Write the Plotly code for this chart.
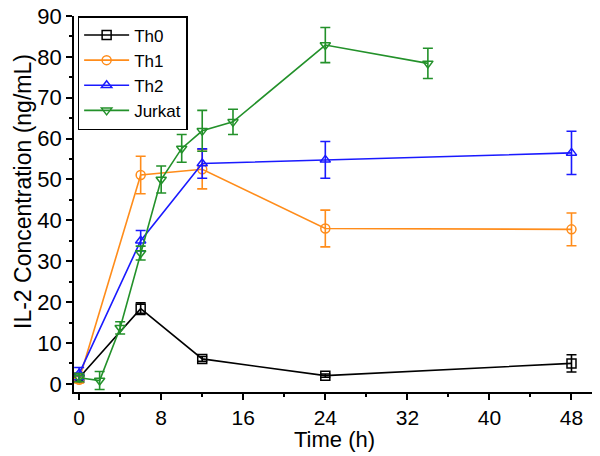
import plotly.graph_objects as go

# Data
th0_t = [0, 6, 12, 24, 48]
th0_y = [1.5, 18.4, 6.1, 2.0, 5.0]
th0_e = [0.6, 1.4, 0.6, 0.4, 2.1]

th1_t = [0, 6, 12, 24, 48]
th1_y = [1.0, 51.1, 52.5, 38.0, 37.8]
th1_e = [0.8, 4.6, 4.8, 4.5, 4.0]

th2_t = [0, 6, 12, 24, 48]
th2_y = [2.5, 35.0, 53.9, 54.8, 56.5]
th2_e = [1.5, 2.5, 3.6, 4.5, 5.3]

jur_t = [0, 2, 4, 6, 8, 10, 12, 15, 24, 34]
jur_y = [1.5, 0.8, 13.7, 32.0, 50.0, 57.6, 61.9, 64.1, 82.9, 78.4]
jur_e = [1.0, 2.2, 1.5, 1.7, 3.3, 3.4, 5.0, 3.1, 4.3, 3.7]

series = [
    ("Th0", th0_t, th0_y, th0_e, "#000000", "square-open"),
    ("Th1", th1_t, th1_y, th1_e, "#FF8C1A", "circle-open"),
    ("Th2", th2_t, th2_y, th2_e, "#1A1AFF", "triangle-up-open"),
    ("Jurkat", jur_t, jur_y, jur_e, "#23912A", "triangle-down-open"),
]

x_ticks = [0, 8, 16, 24, 32, 40, 48]
y_ticks = [0, 10, 20, 30, 40, 50, 60, 70, 80, 90]

fig = go.Figure()
for name, t, y, e, c, sym in series:
    fig.add_trace(go.Scatter(
        x=t, y=y, name=name, mode="lines+markers",
        line=dict(color=c, width=1.6),
        marker=dict(symbol=sym, size=9, color=c, line=dict(color=c, width=1.5)),
        error_y=dict(type="data", array=e, visible=True, color=c, thickness=1.6, width=5),
    ))

font = "Liberation Sans, Arial, sans-serif"
fig.update_layout(
    width=600, height=456,
    margin=dict(l=74, r=8, t=16, b=64),
    plot_bgcolor="white", paper_bgcolor="white",
    font=dict(family=font, size=21, color="black"),
    showlegend=True,
    legend=dict(x=0.007, y=1.0, xanchor="left", yanchor="top",
                bordercolor="black", borderwidth=1.5, bgcolor="white",
                font=dict(size=17, family=font), tracegroupgap=0,
                itemwidth=45),
    annotations=[
        dict(text="Time (h)", xref="paper", yref="paper", x=0.502, y=-0.125,
             xanchor="center", yanchor="middle", showarrow=False,
             font=dict(size=22, family=font, color="black")),
        dict(text="IL-2 Concentration (ng/mL)", xref="paper", yref="paper",
             x=-0.0985, y=0.5346, xanchor="center", yanchor="middle",
             textangle=-90, showarrow=False,
             font=dict(size=23, family=font, color="black")),
    ],
)
fig.update_xaxes(
    range=[-0.5, 50], tickvals=x_ticks, ticktext=[str(v) for v in x_ticks],
    showline=True, linecolor="black", linewidth=1.5, mirror=False,
    ticks="outside", ticklen=6, tickwidth=1.5, tickcolor="black",
    minor=dict(dtick=4, tick0=0, ticks="outside", ticklen=3, tickwidth=1.5, tickcolor="black"),
    showgrid=False, zeroline=False, automargin=False,
    tickfont=dict(size=21),
)
fig.update_yaxes(
    range=[-2, 90], tickvals=y_ticks, ticktext=[str(v) for v in y_ticks],
    showline=True, linecolor="black", linewidth=1.5, mirror=False,
    ticks="outside", ticklen=6, tickwidth=1.5, tickcolor="black",
    minor=dict(dtick=5, tick0=0, ticks="outside", ticklen=3, tickwidth=1.5, tickcolor="black"),
    showgrid=False, zeroline=False, automargin=False,
    tickfont=dict(size=22),
)

fig.write_html("out.html", config={"displayModeBar": False},
               post_script="document.body.style.margin='0px';")
